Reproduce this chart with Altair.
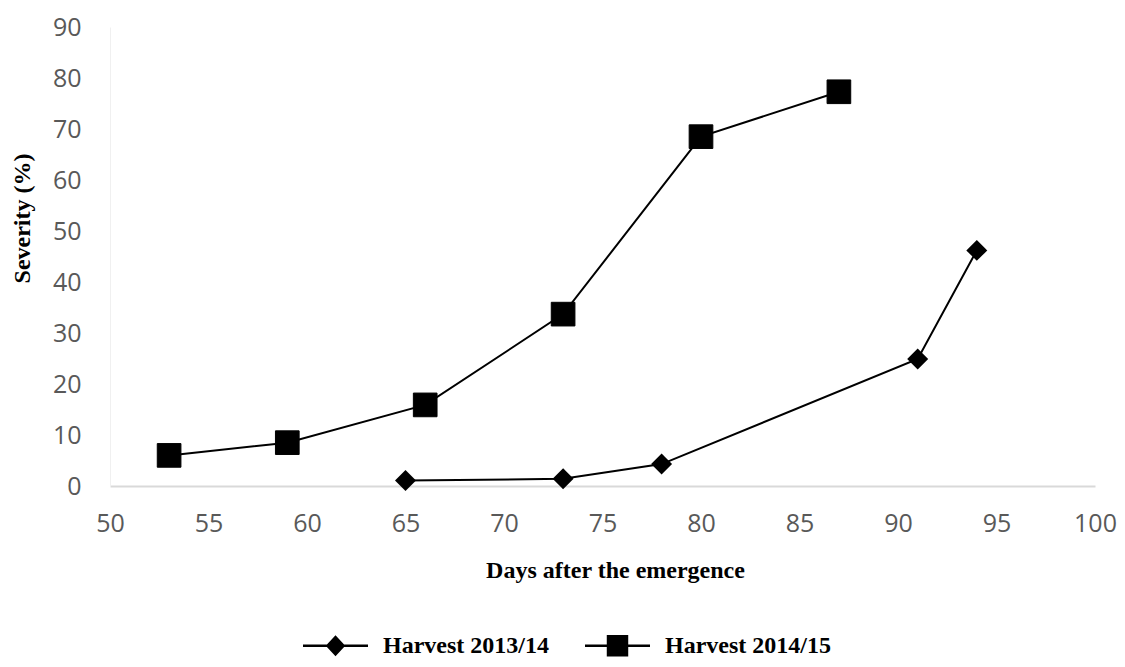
import altair as alt
import pandas as pd

# Data
days_1314 = [65, 73, 78, 91, 94]
sev_1314 = [1.1, 1.4, 4.3, 24.9, 46.2]
days_1415 = [53, 59, 66, 73, 80, 87]
sev_1415 = [6.0, 8.5, 15.9, 33.7, 68.5, 77.3]

series_names = ["Harvest 2013/14", "Harvest 2014/15"]
x_ticks = list(range(50, 101, 5))
y_ticks = list(range(0, 91, 10))

df = pd.DataFrame(
    {
        "days": days_1314 + days_1415,
        "severity": sev_1314 + sev_1415,
        "series": [series_names[0]] * len(days_1314) + [series_names[1]] * len(days_1415),
    }
)

SERIF = "Liberation Serif"
SANS = "Open Sans"

x_enc = alt.X(
    "days:Q",
    scale=alt.Scale(domain=[50, 100], nice=False, zero=False),
    axis=alt.Axis(
        values=x_ticks,
        title="Days after the emergence",
        titleFont=SERIF,
        titleFontSize=24,
        titleFontWeight="bold",
        titleColor="black",
        titleX=505,
        titleY=91,
        titleAlign="center",
        titleBaseline="alphabetic",
        labelFont=SANS,
        labelFontSize=25,
        labelColor="#595959",
        labelPadding=25,
        labelFlush=False,
        labelOverlap=False,
        ticks=False,
        grid=False,
        domainColor="#d9d9d9",
        domainWidth=2,
    ),
)
y_enc = alt.Y(
    "severity:Q",
    scale=alt.Scale(domain=[0, 90], nice=False),
    axis=alt.Axis(
        values=y_ticks,
        title="Severity (%)",
        titleFont=SERIF,
        titleFontSize=24,
        titleFontWeight="bold",
        titleColor="black",
        titleAngle=270,
        titleX=-81,
        titleY=191,
        titleAlign="center",
        titleBaseline="alphabetic",
        labelFont=SANS,
        labelFontSize=25,
        labelColor="#595959",
        labelPadding=29,
        labelFlush=False,
        labelOverlap=False,
        ticks=False,
        grid=False,
        domainColor="#f0f0f0",
        domainWidth=1,
    ),
)

base = alt.Chart(df)

lines = base.mark_line(color="black", strokeWidth=2).encode(
    x=x_enc, y=y_enc, detail="series:N"
)

diamonds = (
    base.transform_filter(alt.datum.series == series_names[0])
    .mark_point(shape="diamond", filled=True, color="black", size=440, opacity=1)
    .encode(x="days:Q", y="severity:Q")
)
squares = (
    base.transform_filter(alt.datum.series == series_names[1])
    .mark_point(shape="square", filled=True, fill="black", size=560, opacity=1,
                stroke="black", strokeWidth=1, strokeJoin="round")
    .encode(x="days:Q", y="severity:Q")
)

# legend glyphs: a thin filled bar (the line) plus the marker, all filled
legend_diamond = "M-1,-0.04L1,-0.04L1,0.04L-1,0.04Z M0,-0.32L0.3,0L0,0.32L-0.3,0Z"
legend_square = "M-1,-0.04L1,-0.04L1,0.04L-1,0.04Z M-0.33,-0.33L0.33,-0.33L0.33,0.33L-0.33,0.33Z"

legend_layer = (
    base.transform_filter("false")
    .mark_point(filled=True, color="black", opacity=1)
    .encode(
        x="days:Q",
        y="severity:Q",
        shape=alt.Shape(
            "series:N",
            scale=alt.Scale(domain=series_names, range=[legend_diamond, legend_square]),
            legend=alt.Legend(
                title=None,
                orient="none",
                direction="horizontal",
                legendX=193,
                legendY=586,
                padding=0,
                symbolSize=4225,
                symbolFillColor="black",
                symbolStrokeWidth=0,
                symbolOpacity=1,
                labelFont=SERIF,
                labelFontSize=24,
                labelFontWeight="bold",
                labelColor="black",
                labelOffset=15,
                labelLimit=400,
                columnPadding=36,
            ),
        ),
    )
)

chart = (
    alt.layer(lines, diamonds, squares, legend_layer)
    .properties(
        width=985,
        height=459,
        background="white",
        autosize=alt.AutoSizeParams(type="none"),
        padding={"left": 102, "top": 19, "right": 22, "bottom": 173},
    )
    .configure_view(strokeWidth=0, stroke="transparent")
)

chart.save("out.html", embed_options={"renderer": "svg", "actions": False})
